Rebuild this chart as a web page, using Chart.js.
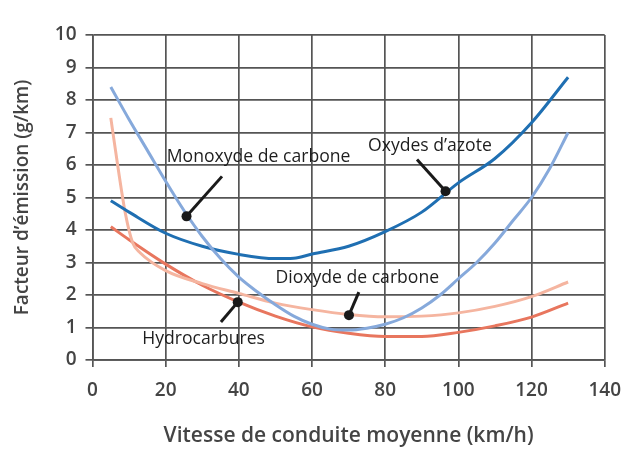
<!DOCTYPE html>
<html>
<head>
<meta charset="utf-8">
<script src="https://cdn.jsdelivr.net/npm/chart.js@4.4.0/dist/chart.umd.min.js"></script>
<style>
  html, body { margin: 0; padding: 0; background: #fff; }
  #wrap { width: 633px; height: 449px; position: relative; }
</style>
</head>
<body>
<div id="wrap"><canvas id="myChart" width="633" height="449"></canvas></div>
<script>
// vitesses (km/h) et facteurs d'émission (g/km)
const coSpeeds = [5, 10, 15, 20, 25, 30, 35, 40, 45, 50, 55, 60, 65, 70, 75, 80, 85, 90, 95, 100, 105, 110, 115, 120, 125, 130];
const coValues = [8.4, 7.4, 6.45, 5.5, 4.6, 3.8, 3.12, 2.55, 2.1, 1.7, 1.35, 1.1, 0.95, 0.92, 0.98, 1.1, 1.3, 1.6, 2.0, 2.5, 3.0, 3.6, 4.3, 5.0, 5.9, 7.0];

const noxSpeeds = [5, 10, 20, 30, 40, 50, 55, 60, 70, 80, 90, 100, 110, 120, 130];
const noxValues = [4.9, 4.55, 3.9, 3.5, 3.25, 3.12, 3.13, 3.26, 3.5, 3.95, 4.55, 5.45, 6.2, 7.3, 8.7];

const co2Speeds = [5, 7, 9, 11, 13, 20, 30, 40, 50, 60, 70, 80, 90, 100, 110, 120, 130];
const co2Values = [7.45, 5.9, 4.5, 3.6, 3.3, 2.75, 2.35, 2.05, 1.75, 1.55, 1.4, 1.33, 1.35, 1.45, 1.65, 1.95, 2.4];

const hcSpeeds = [5, 10, 20, 30, 40, 50, 60, 70, 80, 90, 100, 110, 120, 130];
const hcValues = [4.1, 3.7, 2.95, 2.3, 1.78, 1.35, 1.02, 0.82, 0.72, 0.72, 0.85, 1.05, 1.32, 1.75];

const xTicks = [0, 20, 40, 60, 80, 100, 120, 140];
const yTicks = [0, 1, 2, 3, 4, 5, 6, 7, 8, 9, 10];

// étiquettes : texte, coin gauche du texte, début du trait, point sur la courbe
const labelTexts = ['Monoxyde de carbone', 'Oxydes d\u2019azote', 'Dioxyde de carbone', 'Hydrocarbures'];
const labelPos = [[20.3, 6.24], [75.3, 6.6], [50, 2.52], [13.6, 0.65]];
const pointerFrom = [[35.4, 5.65], [88.7, 6.17], [72.8, 2.09], [35.1, 1.17]];
const pointerTo = [[25.7, 4.42], [96.5, 5.19], [70.1, 1.38], [39.7, 1.78]];

function toPoints(xs, ys) {
  return xs.map((x, i) => ({ x: x, y: ys[i] }));
}

const labelsPlugin = {
  id: 'labelsPlugin',
  afterDatasetsDraw(chart) {
    const ctx = chart.ctx;
    const sx = chart.scales.x;
    const sy = chart.scales.y;
    ctx.save();
    labelTexts.forEach((txt, i) => {
      const x1 = sx.getPixelForValue(pointerFrom[i][0]);
      const y1 = sy.getPixelForValue(pointerFrom[i][1]);
      const x2 = sx.getPixelForValue(pointerTo[i][0]);
      const y2 = sy.getPixelForValue(pointerTo[i][1]);
      ctx.strokeStyle = '#1a1a1a';
      ctx.lineWidth = 3;
      ctx.beginPath();
      ctx.moveTo(x1, y1);
      ctx.lineTo(x2, y2);
      ctx.stroke();
      ctx.fillStyle = '#1a1a1a';
      ctx.beginPath();
      ctx.arc(x2, y2, 5, 0, Math.PI * 2);
      ctx.fill();

      ctx.font = '17.6px "Open Sans"';
      ctx.textAlign = 'left';
      ctx.textBaseline = 'middle';
      ctx.fillStyle = '#1e1e1e';
      ctx.fillText(txt, sx.getPixelForValue(labelPos[i][0]), sy.getPixelForValue(labelPos[i][1]));
    });
    ctx.restore();
  }
};

const gridColor = '#555';
const tickColor = '#444';

const ctx = document.getElementById('myChart').getContext('2d');
new Chart(ctx, {
  type: 'line',
  data: {
    datasets: [
      { label: 'Monoxyde de carbone', data: toPoints(coSpeeds, coValues), borderColor: '#86a9db', borderWidth: 3 },
      { label: 'Oxydes d\u2019azote', data: toPoints(noxSpeeds, noxValues), borderColor: '#1f6fb2', borderWidth: 3 },
      { label: 'Dioxyde de carbone', data: toPoints(co2Speeds, co2Values), borderColor: '#f5b5a0', borderWidth: 3 },
      { label: 'Hydrocarbures', data: toPoints(hcSpeeds, hcValues), borderColor: '#e8765e', borderWidth: 3 }
    ]
  },
  options: {
    responsive: false,
    animation: false,
    devicePixelRatio: 1,
    elements: {
      point: { radius: 0 },
      line: { cubicInterpolationMode: 'monotone', fill: false }
    },
    layout: { padding: { top: 35, right: 21, left: 0, bottom: 0 } },
    plugins: {
      legend: { display: false },
      tooltip: { enabled: false }
    },
    scales: {
      x: {
        type: 'linear',
        min: 0,
        max: 140,
        afterBuildTicks: (scale) => { scale.ticks = xTicks.map(v => ({ value: v })); },
        afterFit: (scale) => { scale.height = 89; },
        grid: { color: gridColor, lineWidth: 1.7, tickLength: 7, drawTicks: true },
        border: { color: gridColor, width: 1.7 },
        ticks: { color: tickColor, font: { family: 'Open Sans', size: 19, weight: '600' }, padding: 12, maxRotation: 0 },
        title: {
          display: true,
          text: 'Vitesse de conduite moyenne (km/h)',
          color: tickColor,
          font: { family: 'Open Sans', size: 21, weight: '600' },
          padding: { top: 0, bottom: 0 }
        }
      },
      y: {
        min: 0,
        max: 10,
        afterBuildTicks: (scale) => { scale.ticks = yTicks.map(v => ({ value: v })); },
        afterFit: (scale) => { scale.width = 92.5; },
        grid: { color: gridColor, lineWidth: 1.7, tickLength: 7, drawTicks: true },
        border: { color: gridColor, width: 1.7 },
        ticks: { color: tickColor, font: { family: 'Open Sans', size: 19, weight: '600' }, padding: 9 },
        title: {
          display: true,
          text: 'Facteur d\u2019émission (g/km)',
          color: tickColor,
          font: { family: 'Open Sans', size: 19, weight: '600' },
          padding: { top: 11, bottom: 0 }
        }
      }
    }
  },
  plugins: [labelsPlugin]
});
</script>
</body>
</html>
